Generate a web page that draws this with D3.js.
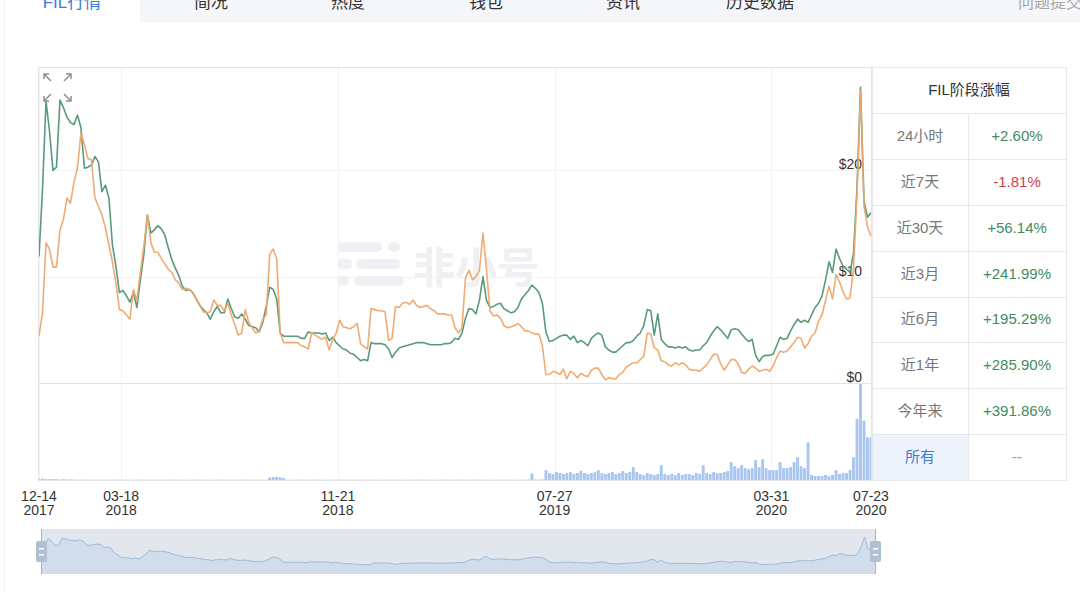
<!DOCTYPE html>
<html><head><meta charset="utf-8">
<script src="https://cdn.jsdelivr.net/npm/d3@7"></script>
<style>
html,body{margin:0;padding:0;background:#fff;overflow:hidden;}
svg{display:block;font-family:"Liberation Sans",Arial,"Noto Sans CJK SC",sans-serif;}
</style></head><body>
<svg id="chart" width="1080" height="592"></svg>
<script>
// ---- data ----
const tabs = ["FIL行情", "简况", "热度", "钱包", "资讯", "历史数据"];
const feedbackTab = "问题提交";

const startDate = "2017-12-14";
const endDate = "2020-07-23";
const stepDays = 4;

// price every 4 days, USD (green line)
const priceA = [
  11.9,18.2,26.5,23.7,20.0,20.3,26.6,25.9,25.0,24.5,24.3,25.2,24.0,20.2,20.3,20.5,21.3,20.8,18.0,18.6,
  17.4,13.0,11.0,8.5,8.7,8.2,7.6,8.5,7.1,9.7,12.1,15.8,14.1,14.4,14.8,14.5,13.9,12.7,11.6,10.8,
  10.1,9.1,8.7,8.8,8.5,7.9,7.3,6.9,6.6,6.0,6.7,7.2,6.6,6.6,7.9,7.0,6.2,6.1,6.5,6.0,
  5.4,5.3,5.2,4.8,5.7,7.2,9.0,8.8,7.9,4.7,4.4,4.4,4.4,4.4,4.4,4.2,4.2,4.8,4.7,4.7,
  4.7,4.6,4.7,4.0,4.3,3.8,3.5,3.2,3.1,2.8,2.7,2.4,2.1,2.2,2.1,3.8,3.7,3.7,3.7,3.6,
  3.2,2.4,2.9,3.3,3.4,3.5,3.6,3.7,3.8,3.8,3.8,3.7,3.6,3.6,3.6,3.6,3.7,3.7,3.8,4.2,
  4.1,4.7,6.1,7.0,6.9,6.5,7.8,10.0,7.8,7.1,7.2,7.4,7.5,7.0,6.8,6.6,6.7,7.1,7.9,8.3,
  8.7,9.2,8.9,8.5,7.5,4.8,3.9,4.0,4.2,4.4,4.5,4.5,4.1,4.4,3.8,4.0,3.8,3.5,4.2,4.5,
  4.7,4.5,3.4,3.1,2.9,2.9,3.2,3.5,3.8,3.8,4.0,4.4,4.7,5.4,6.9,6.8,4.5,6.5,4.1,3.7,
  3.4,3.4,3.3,3.4,3.3,3.4,3.1,3.0,3.1,3.1,3.5,3.8,4.4,4.9,5.3,5.0,4.6,4.2,5.0,5.1,
  5.0,4.6,4.2,3.9,4.1,2.6,2.0,2.5,2.6,2.6,2.7,3.5,4.3,4.1,4.2,4.9,5.5,6.0,5.7,5.9,
  5.7,6.4,7.1,7.5,8.2,9.7,11.4,10.4,12.6,11.7,11.0,10.7,10.4,12.2,18.3,27.8,17.1,15.6,16.0];

// price every 4 days, USD (orange line)
const priceB = [
  4.4,6.6,13.2,12.6,10.9,10.9,14.4,15.4,17.4,16.9,18.9,20.2,23.5,22.4,21.1,21.0,17.4,16.6,15.8,14.6,
  13.0,11.4,9.4,6.9,6.8,6.4,6.0,8.8,7.8,10.4,12.9,15.8,13.2,12.3,12.3,11.7,11.2,10.7,10.4,9.7,
  9.4,8.8,8.9,8.8,8.5,7.9,7.3,6.7,6.6,6.7,7.8,7.3,7.3,6.8,7.5,6.4,5.5,4.5,4.7,6.9,
  5.7,5.2,4.7,4.9,6.0,6.4,12.1,12.6,11.7,4.7,3.8,3.8,3.8,3.8,3.8,3.5,3.4,3.2,4.7,4.5,
  4.3,4.1,4.3,3.1,4.1,4.7,5.9,5.3,5.2,5.1,5.3,5.6,3.7,3.4,3.2,7.0,6.9,6.8,6.8,6.7,
  4.0,4.2,7.2,7.1,7.5,7.6,7.4,7.8,7.3,7.1,7.2,7.3,7.0,6.8,6.5,6.5,6.5,6.4,6.4,5.2,
  4.7,5.2,9.9,10.6,9.7,10.0,10.6,14.1,10.7,6.8,6.3,6.4,6.1,5.4,5.2,5.3,5.4,5.6,5.3,4.9,
  4.9,4.7,4.6,4.6,3.5,0.8,0.8,1.1,1.0,0.8,1.3,0.4,1.1,0.9,0.5,0.9,0.7,0.6,1.2,1.4,
  1.4,0.8,0.3,0.5,0.4,0.4,0.8,1.0,1.5,1.7,1.9,1.9,2.2,2.5,4.7,4.6,3.3,3.1,2.1,2.0,
  1.7,1.6,1.9,1.7,1.9,1.7,1.3,1.2,1.2,1.1,1.4,1.7,2.2,2.7,2.7,1.8,1.2,1.7,2.2,2.2,
  1.8,1.0,0.9,1.3,1.6,1.4,1.1,1.2,1.3,1.1,1.6,2.4,3.0,2.9,3.0,3.4,3.8,4.3,4.2,3.3,
  3.7,4.4,4.7,5.8,6.4,7.8,9.1,7.9,10.2,9.5,8.6,7.9,8.0,10.8,17.8,27.5,16.6,14.7,13.8];

// trading volume every 4 days, USD millions
const volume = [
  1.0,1.2,0.9,0.8,1.0,0.7,0.6,0.8,0.5,0.6,0.5,0.3,0.3,0.4,0.3,0.3,0.3,0.4,0.3,0.3,
  0.3,0.3,0.4,0.3,0.3,0.3,0.3,0.3,0.4,0.3,0.3,0.3,0.3,0.4,0.3,0.3,0.3,0.3,0.3,0.4,
  0.3,0.3,0.3,0.3,0.3,0.4,0.3,0.3,0.3,0.3,0.3,0.3,0.4,0.3,0.3,0.3,0.3,0.3,0.3,0.4,
  0.3,0.3,0.3,0.3,0.3,0.3,2.5,3.0,3.2,2.8,2.0,0.3,0.3,0.3,0.4,0.3,0.3,0.3,0.3,0.3,
  0.4,0.3,0.3,0.3,0.3,0.3,0.3,0.4,0.3,0.3,0.3,0.3,0.3,0.3,0.4,0.3,0.3,0.3,0.3,0.3,
  0.3,0.4,0.3,0.3,0.3,0.3,0.3,0.3,0.4,0.3,0.3,0.3,0.3,0.3,0.3,0.4,0.3,0.3,0.3,0.3,
  0.3,0.5,0.3,0.3,0.3,0.3,0.4,0.3,0.3,0.3,0.3,0.3,0.3,0.4,0.3,0.3,0.3,0.3,0.3,0.3,
  0.4,6.5,0.5,0.4,0.6,
  10,7,6,8,7,6,7,8,6,7,9,7,6,7,8,
  10,7,6,7,8,6,7,9,7,8,13,8,
  6,5,7,6,5,6,15,6,5,6,5,7,5,6,6,5,7,6,15,
  7,6,8,7,7,8,9,18,
  14,12,15,12,11,12,20,13,
  21,12,10,10,10,18,12,12,13,18,23,14,12,38,
  5,4,4,4,5,4,5,10,6,7,7,10,23,62,97,60,43,43];

const tickDates = ["2017-12-14", "2018-03-18", "2018-11-21", "2019-07-27", "2020-03-31", "2020-07-23"];
const priceTicks = [0, 10, 20];

const periodTitle = "FIL阶段涨幅";
const periodLabels = ["24小时", "近7天", "近30天", "近3月", "近6月", "近1年", "今年来", "所有"];
const periodChanges = ["+2.60%", "-1.81%", "+56.14%", "+241.99%", "+195.29%", "+285.90%", "+391.86%", "--"];

// ---- layout ----
const svg = d3.select("#chart");
const parse = d3.utcParse("%Y-%m-%d");
const t0 = parse(startDate);
const dates = d3.range(priceA.length).map(i => d3.utcDay.offset(t0, i * stepDays));

const P = {left: 39, right: 871, top: 67, priceBottom: 383, volBottom: 480};

const x = d3.scaleUtc().domain([t0, parse(endDate)]).range([P.left, P.right]);
const y = d3.scaleLinear().domain([0, 30]).range([P.priceBottom, 64]);
const vy = d3.scaleLinear().domain([0, d3.max(volume)]).range([P.volBottom, P.priceBottom + 1]);

// page edge
svg.append("line").attr("x1", 4.5).attr("x2", 4.5).attr("y1", 0).attr("y2", 592)
  .attr("stroke", "#eef0f4");

// ---- tab bar ----
svg.append("rect").attr("x", 140).attr("y", 0).attr("width", 940).attr("height", 22).attr("fill", "#f5f6fa");
const tabCenters = [72, 211, 348, 486, 623, 760];
svg.append("g").selectAll("text").data(tabs).join("text")
  .attr("x", (d, i) => tabCenters[i]).attr("y", 8)
  .attr("text-anchor", "middle").attr("font-size", 17)
  .attr("fill", (d, i) => i === 0 ? "#3d7bd6" : "#333")
  .text(d => d);
svg.append("text").attr("x", 1018).attr("y", 8).attr("font-size", 16).attr("fill", "#a8a8a8").text(feedbackTab);

// ---- plot frame & grid ----
svg.append("defs").append("clipPath").attr("id", "plotClip")
  .append("rect").attr("x", P.left).attr("y", P.top).attr("width", P.right - P.left).attr("height", P.volBottom - P.top);

svg.append("g").selectAll("line").data(tickDates).join("line")
  .attr("x1", d => Math.round(x(parse(d))) + 0.5).attr("x2", d => Math.round(x(parse(d))) + 0.5)
  .attr("y1", P.top).attr("y2", P.volBottom).attr("stroke", "#f1f2f4");

svg.append("g").selectAll("line").data(priceTicks.filter(v => v > 0)).join("line")
  .attr("x1", P.left).attr("x2", P.right)
  .attr("y1", d => Math.round(y(d)) + 0.5).attr("y2", d => Math.round(y(d)) + 0.5)
  .attr("stroke", "#f1f2f4");
svg.append("line").attr("x1", P.left).attr("x2", P.right)
  .attr("y1", P.priceBottom + 0.5).attr("y2", P.priceBottom + 0.5).attr("stroke", "#e1e3e7");

// watermark logo
const wm = svg.append("g").attr("fill", "#eef0f3");
[[337, 242, 45], [388, 242, 12], [337, 259, 15], [356, 259, 44], [337, 276, 12], [354, 276, 50]].forEach(r => {
  wm.append("rect").attr("x", r[0]).attr("y", r[1]).attr("width", r[2]).attr("height", 10).attr("rx", 5);
});
wm.append("text").attr("x", 413).attr("y", 283).attr("font-size", 42).attr("font-weight", "bold")
  .attr("font-family", "Noto Sans CJK SC").attr("fill", "#eef0f3").text("非小号");

// price axis labels (inside the plot, right-aligned)
svg.append("g").selectAll("text").data(priceTicks).join("text")
  .attr("x", 862).attr("y", d => y(d) - 1)
  .attr("text-anchor", "end").attr("font-size", 14).attr("fill", "#333")
  .text(d => "$" + d);

// ---- volume bars ----
const step = x(dates[1]) - x(dates[0]);
svg.append("g").attr("clip-path", "url(#plotClip)").selectAll("rect").data(volume).join("rect")
  .attr("x", (d, i) => x(dates[i]) - step / 2 + 0.3)
  .attr("width", step - 0.6)
  .attr("y", d => vy(d))
  .attr("height", d => P.volBottom - vy(d))
  .attr("fill", "#a9c6f1");

// ---- price lines ----
const line = d3.line().x((d, i) => x(dates[i])).y(d => y(d));
const lines = svg.append("g").attr("clip-path", "url(#plotClip)");
lines.append("path").datum(priceA).attr("d", line)
  .attr("fill", "none").attr("stroke", "#5a9a7a").attr("stroke-width", 1.6).attr("stroke-linejoin", "round");
lines.append("path").datum(priceB).attr("d", line)
  .attr("fill", "none").attr("stroke", "#eea66b").attr("stroke-width", 1.6).attr("stroke-linejoin", "round")
  .attr("stroke-opacity", 0.95);

// frame
svg.append("rect").attr("x", P.left - 0.5).attr("y", P.top + 0.5).attr("width", P.right - P.left + 1)
  .attr("height", P.volBottom - P.top).attr("fill", "none").attr("stroke", "#e3e5e9");

// expand icon
const icon = svg.append("g").attr("stroke", "#8d8f93").attr("stroke-width", 1.5).attr("fill", "none");
[[44, 74, 1, 1], [71, 74, -1, 1], [44, 101, 1, -1], [71, 101, -1, -1]].forEach(([cx, cy, sx, sy]) => {
  icon.append("path").attr("d",
    `M${cx + sx * 7},${cy + sy * 7}L${cx},${cy}M${cx},${cy + sy * 5}L${cx},${cy}L${cx + sx * 5},${cy}`);
});

// ---- x axis labels ----
const fmtMD = d3.utcFormat("%m-%d"), fmtY = d3.utcFormat("%Y");
const xl = svg.append("g").selectAll("text").data(tickDates).join("text")
  .attr("text-anchor", "middle").attr("font-size", 14).attr("fill", "#333");
xl.append("tspan").attr("x", d => x(parse(d))).attr("y", 501).text(d => fmtMD(parse(d)));
xl.append("tspan").attr("x", d => x(parse(d))).attr("y", 515).text(d => fmtY(parse(d)));

// ---- navigator ----
const N = {left: 41, right: 875, top: 529, bottom: 574};
const nx = x.copy().range([N.left, N.right]);
const ny = d3.scaleLinear().domain([0, d3.max(priceA)]).range([567, 537]);
svg.append("rect").attr("x", N.left).attr("y", N.top).attr("width", N.right - N.left).attr("height", N.bottom - N.top)
  .attr("fill", "#e2e7ee");
svg.append("path").datum(priceA)
  .attr("d", d3.area().x((d, i) => nx(dates[i])).y0(N.bottom).y1(d => ny(d)))
  .attr("fill", "#d2ddeb");
svg.append("path").datum(priceA)
  .attr("d", d3.line().x((d, i) => nx(dates[i])).y(d => ny(d)))
  .attr("fill", "none").attr("stroke", "#9fb8da").attr("stroke-width", 1);
[N.left, N.right].forEach(hx => {
  svg.append("line").attr("x1", hx + 0.5).attr("x2", hx + 0.5).attr("y1", N.top).attr("y2", N.bottom)
    .attr("stroke", "#a9b3c1");
  svg.append("rect").attr("x", hx - 5).attr("y", 541).attr("width", 11).attr("height", 21).attr("rx", 2)
    .attr("fill", "#b1bfd2");
  svg.append("rect").attr("x", hx - 2).attr("y", 548).attr("width", 5).attr("height", 1.5).attr("fill", "#fff");
  svg.append("rect").attr("x", hx - 2).attr("y", 554).attr("width", 5).attr("height", 1.5).attr("fill", "#fff");
});

// ---- period change table ----
const T = {left: 872, mid: 968, right: 1066, top: 67, head: 113, bottom: 480};
const rowH = (T.bottom - T.head) / periodLabels.length;
const tbl = svg.append("g");
tbl.append("rect").attr("x", T.left).attr("y", T.head + rowH * 7).attr("width", T.mid - T.left).attr("height", rowH)
  .attr("fill", "#eef3fb");
tbl.append("rect").attr("x", T.left + 0.5).attr("y", T.top + 0.5).attr("width", T.right - T.left)
  .attr("height", T.bottom - T.top).attr("fill", "none").attr("stroke", "#e6e7ea");
tbl.append("line").attr("x1", T.mid + 0.5).attr("x2", T.mid + 0.5).attr("y1", T.head).attr("y2", T.bottom)
  .attr("stroke", "#e6e7ea");
tbl.selectAll("line.row").data(d3.range(periodLabels.length)).join("line").attr("class", "row")
  .attr("x1", T.left).attr("x2", T.right)
  .attr("y1", i => Math.round(T.head + rowH * i) + 0.5).attr("y2", i => Math.round(T.head + rowH * i) + 0.5)
  .attr("stroke", "#e6e7ea");
tbl.append("text").attr("x", (T.left + T.right) / 2).attr("y", (T.top + T.head) / 2 + 5)
  .attr("text-anchor", "middle").attr("font-size", 15).attr("fill", "#333").text(periodTitle);
tbl.selectAll("text.lab").data(periodLabels).join("text").attr("class", "lab")
  .attr("x", (T.left + T.mid) / 2).attr("y", (d, i) => T.head + rowH * (i + 0.5) + 5)
  .attr("text-anchor", "middle").attr("font-size", 15)
  .attr("fill", (d, i) => i === periodLabels.length - 1 ? "#3d7bd6" : "#777")
  .text(d => d);
tbl.selectAll("text.val").data(periodChanges).join("text").attr("class", "val")
  .attr("x", (T.mid + T.right) / 2).attr("y", (d, i) => T.head + rowH * (i + 0.5) + 5)
  .attr("text-anchor", "middle").attr("font-size", 15)
  .attr("fill", d => d.startsWith("+") ? "#3f8c5e" : d.startsWith("-") && d !== "--" ? "#cc4149" : "#999")
  .text(d => d);
</script>
</body></html>
